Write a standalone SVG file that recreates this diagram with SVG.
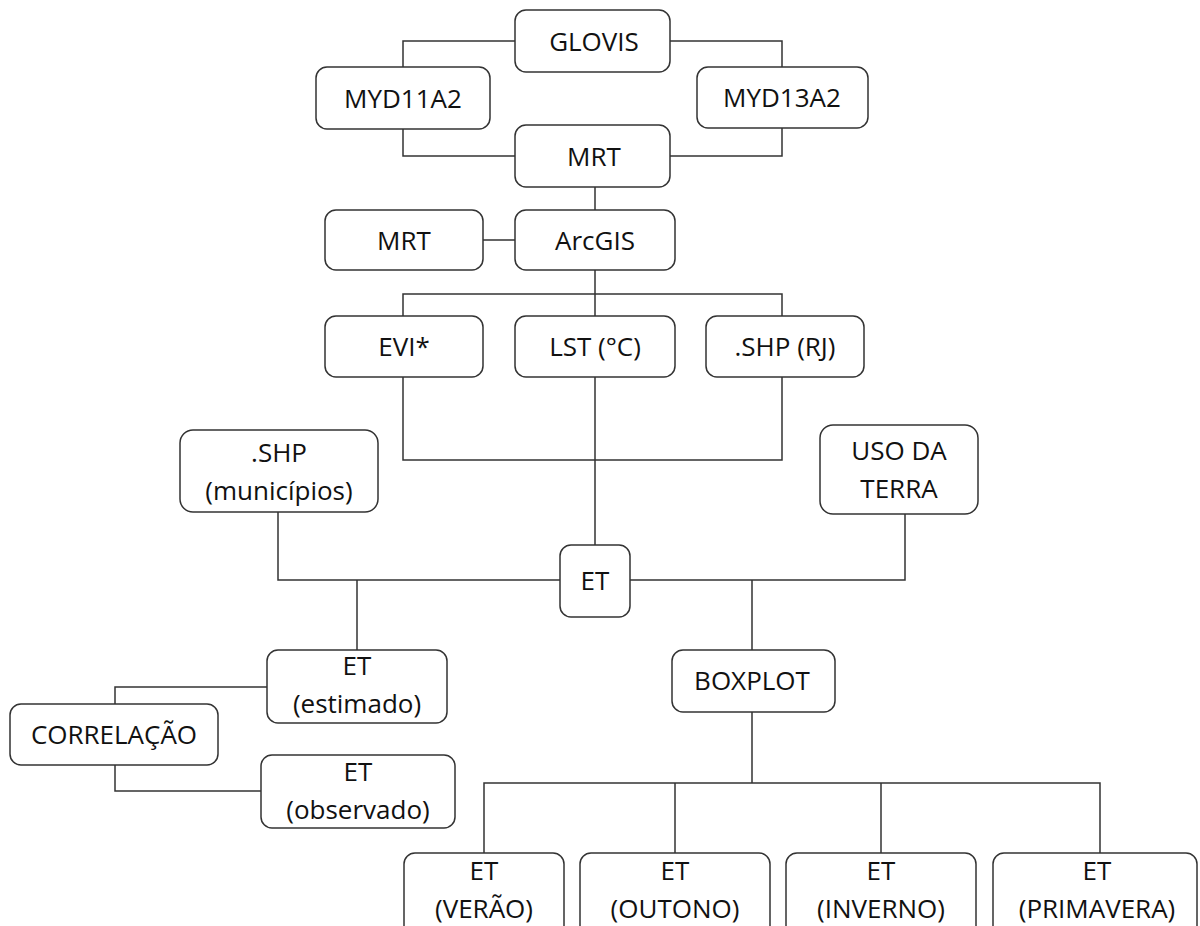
<svg xmlns="http://www.w3.org/2000/svg" width="1200" height="926" viewBox="0 0 1200 926">
<style>
.b{fill:#fff;stroke:#333;stroke-width:1.5}
.t{font-family:"Open Sans","Liberation Sans",sans-serif;font-size:26px;fill:#111;text-anchor:middle}
.c{fill:none;stroke:#333;stroke-width:1.5}
</style>
<rect width="1200" height="926" fill="#fff"/>
<g id="connectors">
<path class="c" d="M515 41H403V67M670 41H782V67"/>
<path class="c" d="M403 129V156H515M782 128V156H670"/>
<path class="c" d="M595 187V210M483 240H515"/>
<path class="c" d="M595 270V316M403 316V294H782V316"/>
<path class="c" d="M403 377V460H782V377M595 377V545"/>
<path class="c" d="M278 512V580H560M630 580H905V514"/>
<path class="c" d="M357 580V650M752 580V650"/>
<path class="c" d="M267 687H115V704M115 765V791H261"/>
<path class="c" d="M752 712V783M484 853V783H1100V853M675 783V853M881 783V853"/>
</g>
<g id="glovis"><rect class="b" x="515" y="10" width="155" height="62" rx="11"/><text class="t" x="594" y="51">GLOVIS</text></g>
<g id="myd11a2"><rect class="b" x="316" y="67" width="174" height="62" rx="11"/><text class="t" x="403" y="108">MYD11A2</text></g>
<g id="myd13a2"><rect class="b" x="697" y="67" width="171" height="61" rx="11"/><text class="t" x="782" y="107">MYD13A2</text></g>
<g id="mrt1"><rect class="b" x="515" y="125" width="155" height="62" rx="11"/><text class="t" x="594" y="166">MRT</text></g>
<g id="mrt2"><rect class="b" x="325" y="210" width="158" height="60" rx="11"/><text class="t" x="404" y="250">MRT</text></g>
<g id="arcgis"><rect class="b" x="515" y="210" width="160" height="60" rx="11"/><text class="t" x="595" y="250">ArcGIS</text></g>
<g id="evi"><rect class="b" x="325" y="316" width="158" height="61" rx="11"/><text class="t" x="404" y="356">EVI*</text></g>
<g id="lst"><rect class="b" x="515" y="316" width="160" height="61" rx="11"/><text class="t" x="595" y="356">LST (°C)</text></g>
<g id="shprj"><rect class="b" x="706" y="316" width="158" height="61" rx="11"/><text class="t" x="785" y="356">.SHP (RJ)</text></g>
<g id="shpmun"><rect class="b" x="180" y="430" width="198" height="82" rx="13"/><text class="t" x="279" y="462">.SHP</text><text class="t" x="279" y="500">(municípios)</text></g>
<g id="uso"><rect class="b" x="820" y="425" width="158" height="89" rx="13"/><text class="t" x="899" y="460">USO DA</text><text class="t" x="899" y="498">TERRA</text></g>
<g id="et"><rect class="b" x="560" y="545" width="70" height="72" rx="11"/><text class="t" x="595" y="590">ET</text></g>
<g id="etest"><rect class="b" x="267" y="650" width="180" height="73" rx="11"/><text class="t" x="357" y="675">ET</text><text class="t" x="357" y="713">(estimado)</text></g>
<g id="boxplot"><rect class="b" x="672" y="650" width="163" height="62" rx="11"/><text class="t" x="752" y="690">BOXPLOT</text></g>
<g id="correlacao"><rect class="b" x="10" y="704" width="208" height="61" rx="11"/><text class="t" x="114" y="744">CORRELAÇÃO</text></g>
<g id="etobs"><rect class="b" x="261" y="755" width="194" height="73" rx="11"/><text class="t" x="358" y="781">ET</text><text class="t" x="358" y="819">(observado)</text></g>
<g id="verao"><rect class="b" x="404" y="853" width="160" height="90" rx="11"/><text class="t" x="484" y="880">ET</text><text class="t" x="484" y="918">(VERÃO)</text></g>
<g id="outono"><rect class="b" x="580" y="853" width="190" height="90" rx="11"/><text class="t" x="675" y="880">ET</text><text class="t" x="675" y="918">(OUTONO)</text></g>
<g id="inverno"><rect class="b" x="786" y="853" width="190" height="90" rx="11"/><text class="t" x="881" y="880">ET</text><text class="t" x="881" y="918">(INVERNO)</text></g>
<g id="primavera"><rect class="b" x="993" y="853" width="204" height="90" rx="11"/><text class="t" x="1097" y="880">ET</text><text class="t" x="1097" y="918">(PRIMAVERA)</text></g>
</svg>
